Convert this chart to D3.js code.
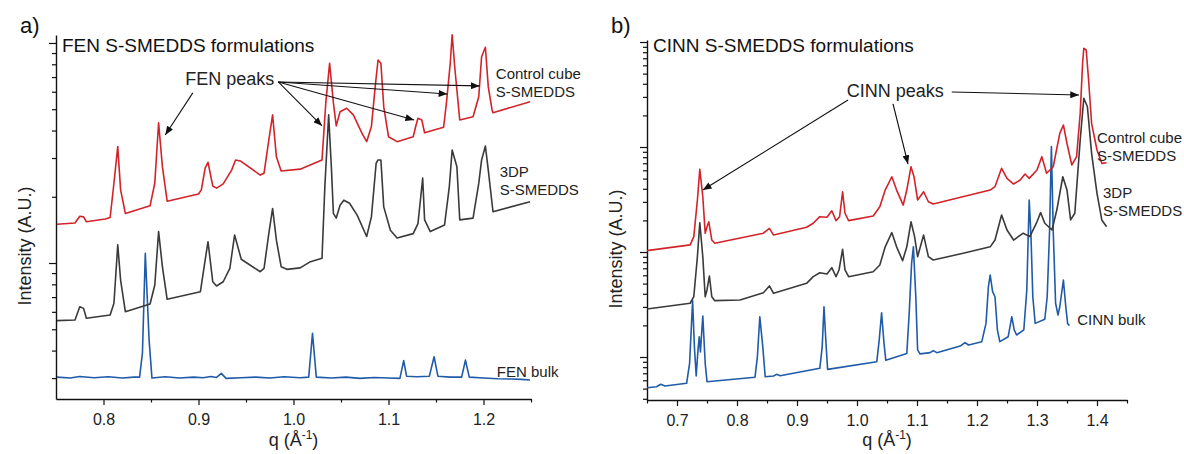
<!DOCTYPE html>
<html>
<head>
<meta charset="utf-8">
<script src="https://cdn.jsdelivr.net/npm/d3@7"></script>
<style>
  body { margin: 0; background: #fff; }
  svg { font-family: "Liberation Sans", Arial, sans-serif; }
</style>
</head>
<body>
<svg id="chart" width="1184" height="454"></svg>
<script>
// ---- data: [q (1/A), intensity (A.U.)] ----

// panel a) FEN
const fenControl = [[0.751,1.50],[0.770,1.52],[0.775,1.63],[0.779,1.62],[0.782,1.54],[0.802,1.585],[0.807,1.61],[0.811,2.31],[0.815,3.38],[0.818,2.15],[0.823,1.68],[0.849,1.82],[0.854,2.31],[0.858,4.34],[0.862,2.74],[0.867,1.91],[0.900,2.06],[0.903,2.15],[0.907,2.70],[0.910,2.87],[0.915,2.24],[0.919,2.19],[0.926,2.29],[0.935,2.65],[0.939,2.94],[0.944,2.91],[0.965,2.51],[0.969,2.56],[0.974,3.62],[0.978,4.71],[0.982,3.04],[0.987,2.62],[1.007,2.67],[1.030,2.94],[1.034,5.34],[1.038,8.09],[1.042,5.34],[1.045,4.20],[1.049,4.87],[1.056,5.05],[1.063,4.71],[1.072,3.89],[1.077,3.56],[1.082,4.17],[1.086,6.33],[1.089,8.37],[1.092,8.09],[1.095,5.13],[1.100,3.75],[1.109,3.56],[1.126,3.75],[1.129,4.24],[1.131,4.55],[1.135,4.47],[1.138,3.91],[1.158,4.14],[1.161,5.34],[1.165,8.09],[1.167,10.9],[1.170,7.54],[1.175,4.47],[1.189,4.62],[1.195,5.70],[1.198,8.66],[1.202,9.56],[1.205,6.33],[1.209,4.96],[1.210,4.82],[1.249,5.41]];

const fen3dp = [[0.751,0.547],[0.770,0.551],[0.775,0.633],[0.779,0.622],[0.782,0.561],[0.807,0.580],[0.811,0.656],[0.815,1.21],[0.818,0.837],[0.823,0.601],[0.849,0.651],[0.854,0.794],[0.858,1.39],[0.862,0.962],[0.867,0.684],[0.902,0.741],[0.907,1.03],[0.910,1.25],[0.915,0.822],[0.919,0.786],[0.926,0.822],[0.933,0.946],[0.938,1.34],[0.945,1.04],[0.965,0.913],[0.969,0.946],[0.974,1.36],[0.978,1.77],[0.982,1.27],[0.987,0.962],[0.993,0.936],[1.007,0.950],[1.017,1.01],[1.030,1.05],[1.033,2.22],[1.037,4.71],[1.040,2.65],[1.042,1.68],[1.045,1.60],[1.049,1.83],[1.053,1.93],[1.059,1.87],[1.067,1.65],[1.077,1.32],[1.082,1.62],[1.087,2.84],[1.089,2.94],[1.092,2.94],[1.095,1.80],[1.102,1.41],[1.109,1.30],[1.126,1.36],[1.131,1.51],[1.136,2.43],[1.138,1.57],[1.144,1.39],[1.159,1.49],[1.164,2.22],[1.167,3.26],[1.172,2.74],[1.175,1.57],[1.189,1.60],[1.195,2.30],[1.198,2.94],[1.202,3.40],[1.205,2.65],[1.210,1.71],[1.249,1.90]];

const fenBulk = [[0.751,0.303],[0.765,0.300],[0.775,0.305],[0.790,0.301],[0.805,0.304],[0.820,0.300],[0.832,0.303],[0.838,0.303],[0.841,0.390],[0.844,1.107],[0.848,0.447],[0.851,0.300],[0.865,0.304],[0.880,0.300],[0.895,0.303],[0.905,0.301],[0.913,0.305],[0.919,0.302],[0.924,0.315],[0.929,0.299],[0.945,0.301],[0.960,0.303],[0.975,0.300],[0.990,0.304],[1.007,0.301],[1.016,0.303],[1.020,0.479],[1.024,0.303],[1.040,0.300],[1.055,0.303],[1.070,0.299],[1.085,0.302],[1.100,0.300],[1.112,0.299],[1.116,0.360],[1.119,0.306],[1.130,0.304],[1.143,0.306],[1.148,0.375],[1.152,0.306],[1.165,0.303],[1.177,0.303],[1.181,0.362],[1.185,0.303],[1.200,0.300],[1.215,0.298],[1.230,0.297],[1.240,0.296],[1.249,0.294]];

// panel b) CINN
const cinnControl = [[0.650,10.3],[0.722,11.7],[0.728,14.0],[0.734,31.3],[0.738,61.3],[0.743,33.6],[0.747,15.1],[0.750,17.4],[0.753,19.4],[0.758,13.0],[0.763,12.1],[0.844,15.1],[0.854,16.8],[0.861,14.5],[0.916,17.2],[0.927,18.8],[0.938,21.7],[0.950,21.4],[0.958,24.7],[0.965,19.9],[0.971,21.7],[0.976,37.5],[0.980,23.4],[0.986,19.9],[1.027,22.0],[1.038,27.0],[1.047,38.9],[1.058,52.1],[1.066,38.9],[1.077,28.0],[1.083,38.9],[1.090,64.9],[1.095,52.1],[1.101,31.3],[1.111,37.5],[1.119,30.1],[1.127,28.7],[1.222,38.9],[1.230,41.9],[1.241,62.7],[1.250,50.3],[1.261,44.4],[1.272,48.5],[1.280,55.3],[1.287,50.3],[1.300,60.4],[1.308,80.9],[1.316,56.2],[1.327,64.9],[1.338,135],[1.344,162],[1.350,108],[1.358,67.4],[1.366,80.9],[1.372,209],[1.376,627],[1.378,871],[1.382,839],[1.386,435],[1.391,168],[1.400,93.6],[1.408,69.9],[1.416,70.8]];

const cinn3dp = [[0.650,2.87],[0.722,3.25],[0.728,3.75],[0.734,9.02],[0.738,19.0],[0.743,9.02],[0.747,3.75],[0.750,4.35],[0.754,5.91],[0.758,3.75],[0.763,3.44],[0.805,3.49],[0.844,4.10],[0.854,4.75],[0.861,4.04],[0.916,5.03],[0.927,5.82],[0.938,6.35],[0.950,6.17],[0.958,7.09],[0.965,5.82],[0.970,6.74],[0.976,10.6],[0.980,6.74],[0.986,5.82],[1.027,6.49],[1.038,7.52],[1.047,11.2],[1.058,15.3],[1.066,11.2],[1.076,8.27],[1.083,11.2],[1.090,19.4],[1.096,14.0],[1.101,9.02],[1.111,14.5],[1.119,9.02],[1.127,8.39],[1.177,9.72],[1.222,11.2],[1.230,13.0],[1.241,22.5],[1.250,16.2],[1.261,13.0],[1.277,15.1],[1.288,14.0],[1.300,19.4],[1.306,23.7],[1.313,18.8],[1.325,16.2],[1.333,25.1],[1.343,52.1],[1.350,38.9],[1.356,20.2],[1.363,23.4],[1.372,117],[1.378,291],[1.384,242],[1.391,87.1],[1.400,36.2],[1.408,20.2],[1.416,17.4]];

const cinnBulk = [[0.650,0.510],[0.666,0.521],[0.673,0.550],[0.680,0.530],[0.716,0.562],[0.721,0.871],[0.726,3.44],[0.729,1.25],[0.732,0.659],[0.735,1.17],[0.737,1.56],[0.739,1.12],[0.743,2.46],[0.747,0.871],[0.750,0.582],[0.830,0.641],[0.834,1.01],[0.838,2.42],[0.843,1.25],[0.847,0.649],[0.861,0.659],[0.866,0.684],[0.872,0.664],[0.938,0.780],[0.942,1.25],[0.945,3.01],[0.948,1.45],[0.951,0.763],[1.033,0.902],[1.037,1.45],[1.041,2.64],[1.045,1.35],[1.048,0.93],[1.083,1.08],[1.087,2.61],[1.091,7.80],[1.094,11.2],[1.098,3.75],[1.101,1.17],[1.105,1.07],[1.122,1.10],[1.127,1.15],[1.133,1.10],[1.172,1.27],[1.180,1.37],[1.186,1.30],[1.208,1.40],[1.215,2.09],[1.219,4.67],[1.222,6.04],[1.226,4.19],[1.230,3.75],[1.234,1.81],[1.238,1.40],[1.252,1.56],[1.258,2.42],[1.262,1.81],[1.266,1.62],[1.278,1.81],[1.283,4.35],[1.287,31.3],[1.290,14.0],[1.293,3.75],[1.297,2.09],[1.313,2.29],[1.317,3.75],[1.321,16.2],[1.324,101],[1.327,16.2],[1.331,3.25],[1.335,2.51],[1.338,3.01],[1.344,5.41],[1.348,3.01],[1.351,2.09],[1.354,1.99]];

// ticks
const qMajorA = [0.8, 0.9, 1.0, 1.1, 1.2];
const qMinorA = [0.85, 0.95, 1.05, 1.15, 1.25];
const qMajorB = [0.7, 0.8, 0.9, 1.0, 1.1, 1.2, 1.3, 1.4];
const qMinorB = [0.65, 0.75, 0.85, 0.95, 1.05, 1.15, 1.25, 1.35, 1.45];
const iMajorA = [1, 10];
const iMinorA = [0.3, 0.4, 0.5, 0.6, 0.7, 0.8, 0.9, 2, 3, 4, 5, 6, 7, 8, 9];
const iMajorB = [1, 10, 100, 1000];
const iMinorB = [0.4, 0.5, 0.6, 0.7, 0.8, 0.9, 2, 3, 4, 5, 6, 7, 8, 9,
                 20, 30, 40, 50, 60, 70, 80, 90, 200, 300, 400, 500, 600, 700, 800, 900];

// annotations: arrow [from, to] in data coords
const fenArrows = [
  [[0.894, 5.93], [0.865, 3.82]],
  [[0.984, 6.65], [1.030, 4.20]],
  [[0.984, 6.65], [1.127, 4.47]],
  [[0.984, 6.65], [1.162, 5.86]],
  [[0.984, 6.65], [1.196, 6.38]]
];
const cinnArrows = [
  [[0.985, 280], [0.743, 38.9]],
  [[1.060, 257], [1.085, 68.9]],
  [[1.158, 334], [1.370, 313]]
];

const colors = { control: "#d2232a", printed: "#3a3a3a", bulk: "#1f5ba8" };

const svg = d3.select("#chart");

svg.append("defs").append("marker")
  .attr("id", "head")
  .attr("viewBox", "0 0 10 8")
  .attr("refX", 10).attr("refY", 4)
  .attr("markerWidth", 9).attr("markerHeight", 7)
  .attr("markerUnits", "userSpaceOnUse")
  .attr("orient", "auto")
  .append("path").attr("d", "M0,0 L10,4 L0,8 z").attr("fill", "#111");

function drawPanel(p) {
  const x = d3.scaleLinear().domain(p.qDomain).range([p.left, p.right]);
  const y = d3.scaleLog().domain(p.iDomain).range([p.bottom, p.top]);
  const g = svg.append("g");

  // x axis
  g.append("g").attr("transform", `translate(0,${p.bottom})`)
    .call(d3.axisBottom(x).tickValues(p.qMinor).tickSize(3.5).tickSizeOuter(0).tickFormat(""))
    .call(a => a.select(".domain").remove());
  const xa = g.append("g").attr("transform", `translate(0,${p.bottom})`)
    .call(d3.axisBottom(x).tickValues(p.qMajor).tickSize(6).tickSizeOuter(0).tickFormat(d3.format(".1f")));
  xa.selectAll("text").attr("font-size", 16).attr("fill", "#222").attr("dy", "1.05em");

  // y axis (log, unlabelled)
  g.append("g").attr("transform", `translate(${p.left},0)`)
    .call(d3.axisLeft(y).tickValues(p.iMinor).tickSize(4).tickSizeOuter(0).tickFormat(""))
    .call(a => a.select(".domain").remove());
  g.append("g").attr("transform", `translate(${p.left},0)`)
    .call(d3.axisLeft(y).tickValues(p.iMajor).tickSize(7).tickSizeOuter(0).tickFormat(""));

  g.selectAll(".domain").attr("stroke", "#111").attr("stroke-width", 1.4);
  g.selectAll(".tick line").attr("stroke", "#111").attr("stroke-width", 1.2);

  // curves
  const line = d3.line().x(d => x(d[0])).y(d => y(d[1]));
  p.series.forEach(s => {
    g.append("path").datum(s.data)
      .attr("d", line)
      .attr("fill", "none")
      .attr("stroke", s.color)
      .attr("stroke-width", 1.6)
      .attr("stroke-linejoin", "round");
  });

  // series labels
  p.labels.forEach(l => {
    const t = g.append("text")
      .attr("x", x(l.at[0])).attr("y", y(l.at[1]))
      .attr("font-size", l.size).attr("fill", "#222");
    l.lines.forEach((s, i) => {
      t.append("tspan").attr("x", x(l.at[0])).attr("dy", i ? "1.22em" : 0).text(s);
    });
  });

  // arrows
  p.arrows.forEach(a => {
    g.append("line")
      .attr("x1", x(a[0][0])).attr("y1", y(a[0][1]))
      .attr("x2", x(a[1][0])).attr("y2", y(a[1][1]))
      .attr("stroke", "#111").attr("stroke-width", 1.1)
      .attr("marker-end", "url(#head)");
  });

  // panel letter and title
  g.append("text").attr("x", p.left - 36).attr("y", 33)
    .attr("font-size", 22).attr("fill", "#111").text(p.letter);
  g.append("text").attr("x", p.left + 6).attr("y", 52)
    .attr("font-size", 19).attr("fill", "#111").text(p.title);

  // axis titles
  const cx = (p.left + p.right) / 2;
  const xt = g.append("text").attr("x", cx).attr("y", 446)
    .attr("text-anchor", "middle").attr("font-size", 18).attr("fill", "#222");
  xt.append("tspan").text("q (Å");
  xt.append("tspan").attr("font-size", 12).attr("dy", -7).text("-1");
  xt.append("tspan").attr("dy", 7).text(")");

  g.append("text")
    .attr("transform", `translate(${p.left - 25},${(p.top + p.bottom) / 2 + 29}) rotate(-90)`)
    .attr("text-anchor", "middle").attr("font-size", 18).attr("fill", "#222")
    .text("Intensity (A.U.)");
}

drawPanel({
  left: 56, right: 531, top: 35, bottom: 399,
  qDomain: [0.75, 1.25], iDomain: [0.241, 10.87],
  qMajor: qMajorA, qMinor: qMinorA, iMajor: iMajorA, iMinor: iMinorA,
  letter: "a)", title: "FEN S-SMEDDS formulations",
  series: [
    { data: fenBulk, color: colors.bulk },
    { data: fen3dp, color: colors.printed },
    { data: fenControl, color: colors.control }
  ],
  labels: [
    { at: [0.886, 6.44], lines: ["FEN peaks"], size: 18 },
    { at: [1.213, 6.86], lines: ["Control cube", "S-SMEDDS"], size: 15 },
    { at: [1.217, 2.46], lines: ["3DP", "S-SMEDDS"], size: 15 },
    { at: [1.214, 0.303], lines: ["FEN bulk"], size: 15 }
  ],
  arrows: fenArrows
});

drawPanel({
  left: 647, right: 1127, top: 40, bottom: 400,
  qDomain: [0.65, 1.45], iDomain: [0.3895, 1045],
  qMajor: qMajorB, qMinor: qMinorB, iMajor: iMajorB, iMinor: iMinorB,
  letter: "b)", title: "CINN S-SMEDDS formulations",
  series: [
    { data: cinnBulk, color: colors.bulk },
    { data: cinn3dp, color: colors.printed },
    { data: cinnControl, color: colors.control }
  ],
  labels: [
    { at: [0.983, 299], lines: ["CINN peaks"], size: 18 },
    { at: [1.400, 109], lines: ["Control cube", "S-SMEDDS"], size: 15 },
    { at: [1.410, 32.7], lines: ["3DP", "S-SMEDDS"], size: 15 },
    { at: [1.367, 2.02], lines: ["CINN bulk"], size: 15 }
  ],
  arrows: cinnArrows
});
</script>
</body>
</html>
